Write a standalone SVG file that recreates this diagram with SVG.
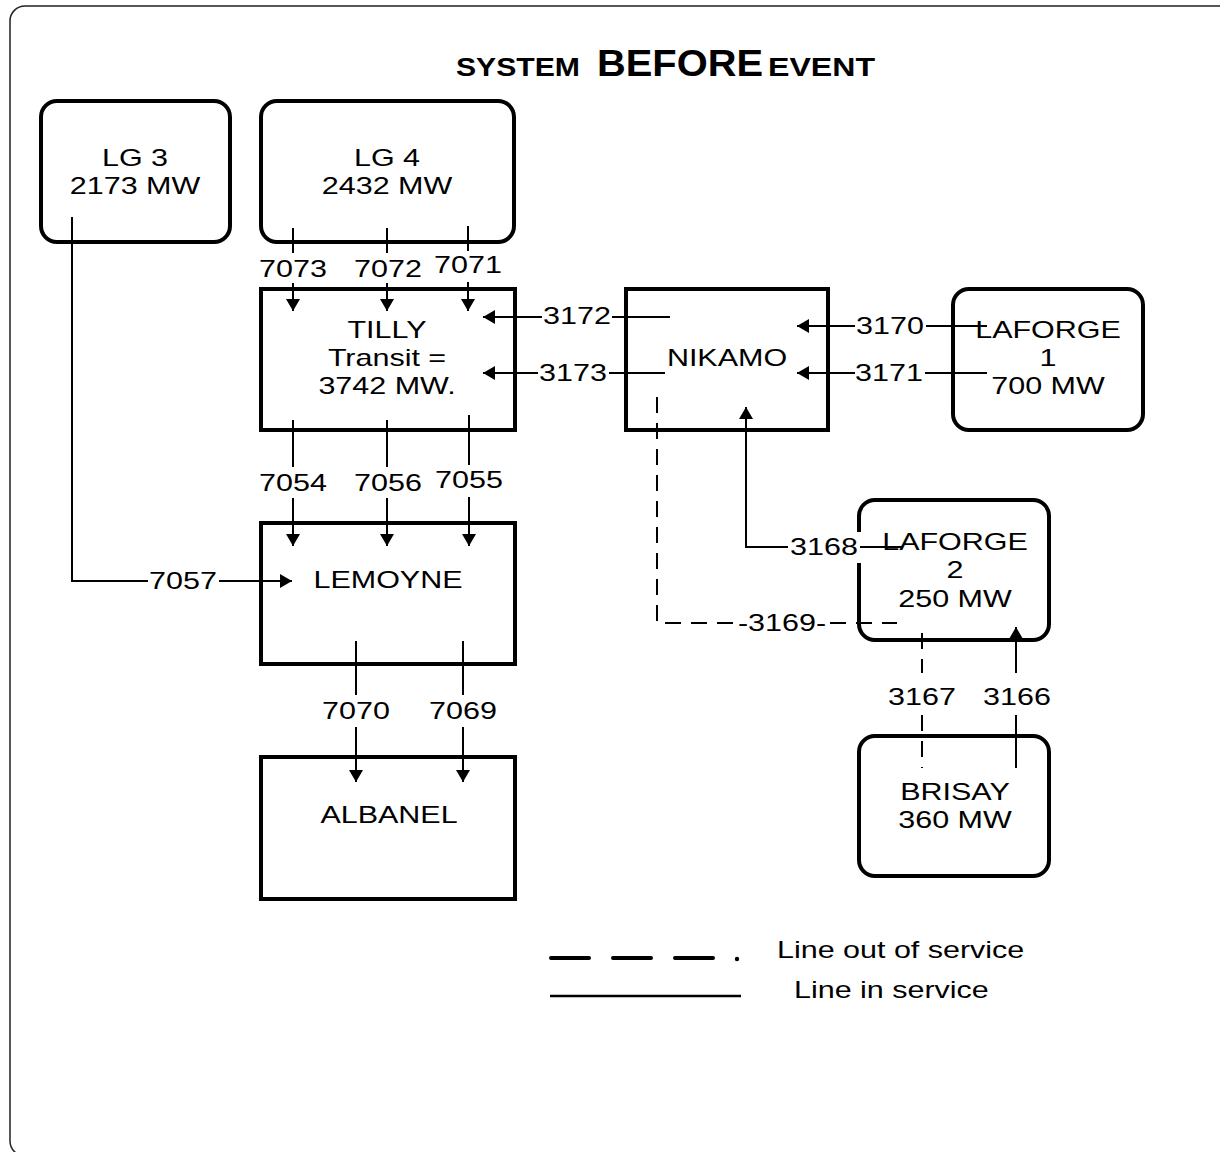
<svg xmlns="http://www.w3.org/2000/svg" width="1220" height="1152" viewBox="0 0 1220 1152">
<defs>
<style>
.t{font-family:"Liberation Sans",Arial,sans-serif;font-size:24px;fill:#000;text-anchor:middle}
.ts{font-family:"Liberation Sans",Arial,sans-serif;font-size:24px;fill:#000;text-anchor:start}
.ti{font-family:"Liberation Sans",Arial,sans-serif;font-weight:bold;fill:#000}
.box{fill:#fff;stroke:#000;stroke-width:4}
.c{fill:none;stroke:#000;stroke-width:2}
.d{fill:none;stroke:#000;stroke-width:2;stroke-dasharray:16 10}
</style>
<marker id="ah" markerUnits="userSpaceOnUse" markerWidth="12" markerHeight="14" refX="12" refY="7" orient="auto">
<path d="M0,0 L12,7 L0,14 z" fill="#000"/>
</marker>
</defs>
<rect x="10" y="6" width="1240" height="1150" rx="15" fill="#fff" stroke="#222" stroke-width="1.5"/>
<g id="title">
<text class="ti" x="456" y="76" font-size="26" textLength="124" lengthAdjust="spacingAndGlyphs">SYSTEM</text>
<text class="ti" x="597" y="76" font-size="36" textLength="166" lengthAdjust="spacingAndGlyphs">BEFORE</text>
<text class="ti" x="768" y="76" font-size="26" textLength="107" lengthAdjust="spacingAndGlyphs">EVENT</text>
</g>
<g id="lg3">
<rect class="box" x="41" y="101" width="189" height="141" rx="16"/>
<text class="t" transform="translate(135 166) scale(1.27 1)"><tspan x="0" y="0">LG 3</tspan><tspan x="0" y="28">2173 MW</tspan></text>
</g>
<g id="lg4">
<rect class="box" x="261" y="101" width="253" height="141" rx="16"/>
<text class="t" transform="translate(387 166) scale(1.27 1)"><tspan x="0" y="0">LG 4</tspan><tspan x="0" y="28">2432 MW</tspan></text>
</g>
<g id="tilly">
<rect class="box" x="261" y="289" width="254" height="141"/>
<text class="t" transform="translate(387 338) scale(1.27 1)"><tspan x="0" y="0">TILLY</tspan><tspan x="0" y="28">Transit =</tspan><tspan x="0" y="56">3742 MW.</tspan></text>
</g>
<g id="nikamo">
<rect class="box" x="626" y="289" width="202" height="141"/>
<text class="t" transform="translate(727 366) scale(1.27 1)">NIKAMO</text>
</g>
<g id="laforge1">
<rect class="box" x="953" y="289" width="190" height="141" rx="16"/>
<text class="t" transform="translate(1048 338) scale(1.27 1)"><tspan x="0" y="0">LAFORGE</tspan><tspan x="0" y="28">1</tspan><tspan x="0" y="56">700 MW</tspan></text>
</g>
<g id="laforge2">
<rect class="box" x="859" y="500" width="190" height="140" rx="16"/>
<text class="t" transform="translate(955 550) scale(1.27 1)"><tspan x="0" y="0">LAFORGE</tspan><tspan x="0" y="28">2</tspan><tspan x="0" y="57">250 MW</tspan></text>
</g>
<g id="lemoyne">
<rect class="box" x="261" y="523" width="254" height="141"/>
<text class="t" transform="translate(388 588) scale(1.27 1)">LEMOYNE</text>
</g>
<g id="albanel">
<rect class="box" x="261" y="757" width="254" height="142"/>
<text class="t" transform="translate(389 823) scale(1.27 1)">ALBANEL</text>
</g>
<g id="brisay">
<rect class="box" x="859" y="736" width="190" height="140" rx="16"/>
<text class="t" transform="translate(955 800) scale(1.27 1)"><tspan x="0" y="0">BRISAY</tspan><tspan x="0" y="28">360 MW</tspan></text>
</g>
<g id="connectors">
<path class="c" d="M293,228 V253 M293,283 V311" marker-end="url(#ah)"/>
<path class="c" d="M387,228 V253 M387,283 V311" marker-end="url(#ah)"/>
<path class="c" d="M468,226 V251 M468,282 V311" marker-end="url(#ah)"/>
<text class="t" transform="translate(293 277) scale(1.27 1)">7073</text>
<text class="t" transform="translate(388 277) scale(1.27 1)">7072</text>
<text class="t" transform="translate(468 273) scale(1.27 1)">7071</text>
<path class="c" d="M670,317 H612 M542,317 H483" marker-end="url(#ah)"/>
<path class="c" d="M665,373 H609 M538,373 H483" marker-end="url(#ah)"/>
<text class="t" transform="translate(577 324) scale(1.27 1)">3172</text>
<text class="t" transform="translate(573 381) scale(1.27 1)">3173</text>
<path class="c" d="M987,326 H926 M855,326 H797" marker-end="url(#ah)"/>
<path class="c" d="M987,373 H925 M855,373 H797" marker-end="url(#ah)"/>
<text class="t" transform="translate(890 334) scale(1.27 1)">3170</text>
<text class="t" transform="translate(889 381) scale(1.27 1)">3171</text>
<path class="c" d="M293,420 V467 M293,498 V546" marker-end="url(#ah)"/>
<path class="c" d="M387,420 V467 M387,498 V546" marker-end="url(#ah)"/>
<path class="c" d="M469,415 V465 M469,497 V546" marker-end="url(#ah)"/>
<text class="t" transform="translate(293 491) scale(1.27 1)">7054</text>
<text class="t" transform="translate(388 491) scale(1.27 1)">7056</text>
<text class="t" transform="translate(469 488) scale(1.27 1)">7055</text>
<path class="c" d="M72,217 V581 H148 M219,581 H292" marker-end="url(#ah)"/>
<text class="t" transform="translate(183 589) scale(1.27 1)">7057</text>
<path class="c" d="M356,641 V695 M356,727 V782" marker-end="url(#ah)"/>
<path class="c" d="M463,641 V695 M463,727 V782" marker-end="url(#ah)"/>
<text class="t" transform="translate(356 719) scale(1.27 1)">7070</text>
<text class="t" transform="translate(463 719) scale(1.27 1)">7069</text>
<rect x="788" y="532" width="73" height="31" fill="#fff"/>
<path class="c" d="M902,547 H860 M788,547 H746 V407" marker-end="url(#ah)"/>
<text class="t" transform="translate(824 555) scale(1.27 1)">3168</text>
<path class="d" d="M657,397 V623 H735 M830,623 H897"/>
<text class="t" transform="translate(782 631) scale(1.27 1)">-3169-</text>
<path class="d" d="M922,633 V673 M922,715 V768"/>
<text class="t" transform="translate(922 705) scale(1.27 1)">3167</text>
<path class="c" d="M1016,768 V715 M1016,673 V627" marker-end="url(#ah)"/>
<text class="t" transform="translate(1017 705) scale(1.27 1)">3166</text>
</g>
<g id="legend">
<path d="M551,958 H589 M613,958 H651 M675,958 H713" stroke="#000" stroke-width="4" stroke-linecap="round" fill="none"/>
<circle cx="737" cy="959" r="2.2" fill="#000"/>
<path d="M550,996 H741" stroke="#000" stroke-width="2.5" fill="none"/>
<text class="ts" transform="translate(777 958) scale(1.27 1)">Line out of service</text>
<text class="ts" transform="translate(794 998) scale(1.27 1)">Line in service</text>
</g>
</svg>
